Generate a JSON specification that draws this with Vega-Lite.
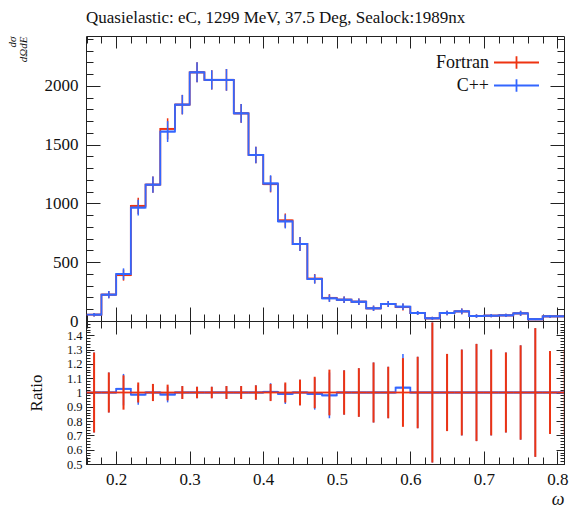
{
  "$schema": "https://vega.github.io/schema/vega-lite/v6.json",
  "padding": {"left": 5, "top": 8, "right": 5, "bottom": 5},
  "background": "white",
  "config": {
    "font": "Liberation Serif",
    "view": {"stroke": "#222", "strokeWidth": 1},
    "axis": {"grid": false, "domain": false, "labelFont": "Liberation Serif", "titleFont": "Liberation Serif", "tickColor": "#222", "labelColor": "#111", "titleColor": "#111", "titleFontWeight": "normal", "tickWidth": 1, "minExtent": 0, "labelOverlap": false}
  },
  "datasets": {
    "bins": [
      {"x0":0.16,"x1":0.18,"xm":0.17,"F":54,"Flo":38.9,"Fhi":69.1,"C":54,"Clo":38.9,"Chi":69.1,"R":1,"Rlo":0.72,"Rhi":1.28,"Elo":0.72,"Ehi":1.28},
      {"x0":0.18,"x1":0.20,"xm":0.19,"F":224,"Flo":192.6,"Fhi":255.4,"C":224,"Clo":192.6,"Chi":255.4,"R":1,"Rlo":0.86,"Rhi":1.14,"Elo":0.86,"Ehi":1.14},
      {"x0":0.20,"x1":0.22,"xm":0.21,"F":390,"Flo":343.2,"Fhi":436.8,"C":400,"Clo":352,"Chi":448,"R":1.026,"Rlo":0.91,"Rhi":1.13,"Elo":0.88,"Ehi":1.12},
      {"x0":0.22,"x1":0.24,"xm":0.23,"F":980,"Flo":911.4,"Fhi":1048.6,"C":965,"Clo":897.4,"Chi":1032.6,"R":0.985,"Rlo":0.915,"Rhi":1.055,"Elo":0.93,"Ehi":1.07},
      {"x0":0.24,"x1":0.26,"xm":0.25,"F":1160,"Flo":1090.4,"Fhi":1229.6,"C":1160,"Clo":1090.4,"Chi":1229.6,"R":1,"Rlo":0.94,"Rhi":1.06,"Elo":0.94,"Ehi":1.06},
      {"x0":0.26,"x1":0.28,"xm":0.27,"F":1635,"Flo":1545.1,"Fhi":1724.9,"C":1612,"Clo":1523.3,"Chi":1700.7,"R":0.986,"Rlo":0.931,"Rhi":1.041,"Elo":0.945,"Ehi":1.055},
      {"x0":0.28,"x1":0.30,"xm":0.29,"F":1841,"Flo":1758.2,"Fhi":1923.8,"C":1841,"Clo":1758.2,"Chi":1923.8,"R":1,"Rlo":0.955,"Rhi":1.045,"Elo":0.955,"Ehi":1.045},
      {"x0":0.30,"x1":0.32,"xm":0.31,"F":2116,"Flo":2031.4,"Fhi":2200.6,"C":2116,"Clo":2031.4,"Chi":2200.6,"R":1,"Rlo":0.96,"Rhi":1.04,"Elo":0.96,"Ehi":1.04},
      {"x0":0.32,"x1":0.34,"xm":0.33,"F":2052,"Flo":1969.9,"Fhi":2134.1,"C":2052,"Clo":1969.9,"Chi":2134.1,"R":1,"Rlo":0.96,"Rhi":1.04,"Elo":0.96,"Ehi":1.04},
      {"x0":0.34,"x1":0.36,"xm":0.35,"F":2052,"Flo":1959.7,"Fhi":2144.3,"C":2052,"Clo":1959.7,"Chi":2144.3,"R":1,"Rlo":0.955,"Rhi":1.045,"Elo":0.955,"Ehi":1.045},
      {"x0":0.36,"x1":0.38,"xm":0.37,"F":1767,"Flo":1687.5,"Fhi":1846.5,"C":1767,"Clo":1687.5,"Chi":1846.5,"R":1,"Rlo":0.955,"Rhi":1.045,"Elo":0.955,"Ehi":1.045},
      {"x0":0.38,"x1":0.40,"xm":0.39,"F":1413,"Flo":1342.3,"Fhi":1483.7,"C":1413,"Clo":1342.3,"Chi":1483.7,"R":1,"Rlo":0.95,"Rhi":1.05,"Elo":0.95,"Ehi":1.05},
      {"x0":0.40,"x1":0.42,"xm":0.41,"F":1164,"Flo":1094.2,"Fhi":1233.8,"C":1170,"Clo":1099.8,"Chi":1240.2,"R":1.005,"Rlo":0.945,"Rhi":1.065,"Elo":0.94,"Ehi":1.06},
      {"x0":0.42,"x1":0.44,"xm":0.43,"F":855,"Flo":795.1,"Fhi":914.9,"C":847,"Clo":787.7,"Chi":906.3,"R":0.99,"Rlo":0.92,"Rhi":1.06,"Elo":0.93,"Ehi":1.07},
      {"x0":0.44,"x1":0.46,"xm":0.45,"F":655,"Flo":596,"Fhi":714,"C":655,"Clo":596,"Chi":714,"R":1,"Rlo":0.91,"Rhi":1.09,"Elo":0.91,"Ehi":1.09},
      {"x0":0.46,"x1":0.48,"xm":0.47,"F":360,"Flo":320.4,"Fhi":399.6,"C":357,"Clo":317.7,"Chi":396.3,"R":0.99,"Rlo":0.88,"Rhi":1.10,"Elo":0.89,"Ehi":1.11},
      {"x0":0.48,"x1":0.50,"xm":0.49,"F":197,"Flo":165.5,"Fhi":228.5,"C":193,"Clo":162.1,"Chi":223.9,"R":0.98,"Rlo":0.82,"Rhi":1.14,"Elo":0.84,"Ehi":1.16},
      {"x0":0.50,"x1":0.52,"xm":0.51,"F":181,"Flo":152.9,"Fhi":209.1,"C":181,"Clo":152.9,"Chi":209.1,"R":1,"Rlo":0.845,"Rhi":1.155,"Elo":0.845,"Ehi":1.155},
      {"x0":0.52,"x1":0.54,"xm":0.53,"F":164,"Flo":136.1,"Fhi":191.9,"C":164,"Clo":136.1,"Chi":191.9,"R":1,"Rlo":0.83,"Rhi":1.17,"Elo":0.83,"Ehi":1.17},
      {"x0":0.54,"x1":0.56,"xm":0.55,"F":108,"Flo":85.3,"Fhi":130.7,"C":108,"Clo":85.3,"Chi":130.7,"R":1,"Rlo":0.79,"Rhi":1.21,"Elo":0.79,"Ehi":1.21},
      {"x0":0.56,"x1":0.58,"xm":0.57,"F":145,"Flo":118.9,"Fhi":171.1,"C":145,"Clo":118.9,"Chi":171.1,"R":1,"Rlo":0.82,"Rhi":1.18,"Elo":0.82,"Ehi":1.18},
      {"x0":0.58,"x1":0.60,"xm":0.59,"F":118,"Flo":89.7,"Fhi":146.3,"C":122,"Clo":92.7,"Chi":151.3,"R":1.034,"Rlo":0.80,"Rhi":1.27,"Elo":0.76,"Ehi":1.24},
      {"x0":0.60,"x1":0.62,"xm":0.61,"F":68,"Flo":51,"Fhi":85,"C":68,"Clo":51,"Chi":85,"R":1,"Rlo":0.75,"Rhi":1.25,"Elo":0.75,"Ehi":1.25},
      {"x0":0.62,"x1":0.64,"xm":0.63,"F":23,"Flo":10.3,"Fhi":35.7,"C":23,"Clo":10.3,"Chi":35.7,"R":1,"Rlo":0.51,"Rhi":1.49,"Elo":0.51,"Ehi":1.49},
      {"x0":0.64,"x1":0.66,"xm":0.65,"F":68,"Flo":49.6,"Fhi":86.4,"C":68,"Clo":49.6,"Chi":86.4,"R":1,"Rlo":0.73,"Rhi":1.27,"Elo":0.73,"Ehi":1.27},
      {"x0":0.66,"x1":0.68,"xm":0.67,"F":82,"Flo":57.4,"Fhi":106.6,"C":82,"Clo":57.4,"Chi":106.6,"R":1,"Rlo":0.70,"Rhi":1.30,"Elo":0.70,"Ehi":1.30},
      {"x0":0.68,"x1":0.70,"xm":0.69,"F":42,"Flo":27.7,"Fhi":56.3,"C":42,"Clo":27.7,"Chi":56.3,"R":1,"Rlo":0.66,"Rhi":1.34,"Elo":0.66,"Ehi":1.34},
      {"x0":0.70,"x1":0.72,"xm":0.71,"F":45,"Flo":31.5,"Fhi":58.5,"C":45,"Clo":31.5,"Chi":58.5,"R":1,"Rlo":0.70,"Rhi":1.30,"Elo":0.70,"Ehi":1.30},
      {"x0":0.72,"x1":0.74,"xm":0.73,"F":48,"Flo":34.6,"Fhi":61.4,"C":48,"Clo":34.6,"Chi":61.4,"R":1,"Rlo":0.72,"Rhi":1.28,"Elo":0.72,"Ehi":1.28},
      {"x0":0.74,"x1":0.76,"xm":0.75,"F":65,"Flo":43.5,"Fhi":86.5,"C":65,"Clo":43.5,"Chi":86.5,"R":1,"Rlo":0.67,"Rhi":1.33,"Elo":0.67,"Ehi":1.33},
      {"x0":0.76,"x1":0.78,"xm":0.77,"F":15,"Flo":8.2,"Fhi":21.8,"C":15,"Clo":8.2,"Chi":21.8,"R":1,"Rlo":0.55,"Rhi":1.45,"Elo":0.55,"Ehi":1.45},
      {"x0":0.78,"x1":0.80,"xm":0.79,"F":40,"Flo":28.4,"Fhi":51.6,"C":40,"Clo":28.4,"Chi":51.6,"R":1,"Rlo":0.71,"Rhi":1.29,"Elo":0.71,"Ehi":1.29},
      {"x0":0.80,"x1":0.82,"xm":0.81,"F":40,"Flo":28,"Fhi":52,"C":40,"Clo":28,"Chi":52,"R":1,"Rlo":0.70,"Rhi":1.30,"Elo":0.70,"Ehi":1.30}
    ]
  },
  "vconcat": [
    {
      "width": 478,
      "height": 285,
      "title": {"text": "Quasielastic: eC, 1299 MeV, 37.5 Deg, Sealock:1989nx", "anchor": "start", "frame": "group", "fontSize": 17, "font": "Liberation Serif", "fontWeight": "normal", "offset": 9, "color": "#111"},
      "data": {"name": "bins"},
      "resolve": {"axis": {"x": "independent", "y": "independent"}},
      "layer": [
        {
          "mark": {"type": "rule", "strokeWidth": 1.8, "clip": true},
          "encoding": {
            "x": {"field": "x0", "type": "quantitative", "scale": {"domain": [0.159, 0.809], "nice": false, "zero": false},
                  "axis": {"orient": "bottom", "values": [0.2,0.3,0.4,0.5,0.6,0.7,0.8], "labels": false, "tickSize": -14, "title": null}},
            "x2": {"field": "x1"},
            "y": {"field": "F", "type": "quantitative", "scale": {"domain": [0, 2425], "nice": false, "zero": false},
                  "axis": {"orient": "left", "values": [0,500,1000,1500,2000], "format": "d", "ticks": false, "labelPadding": 8, "labelFontSize": 17,
                           "title": ["dσ", "dΩdE"], "titleAnchor": "end", "titleAngle": -90, "titleFontSize": 11, "titleFontStyle": "italic", "titlePadding": 16, "titleLineHeight": 11}},
            "color": {"datum": "Fortran", "type": "nominal", "scale": {"domain": ["Fortran", "C++"], "range": ["#EE3311", "#3366FF"]},
                      "legend": {"title": null, "orient": "none", "legendX": 418, "legendY": 14, "labelFontSize": 18, "labelFont": "Liberation Serif", "labelColor": "#111",
                                 "labelAlign": "right", "labelOffset": -40, "symbolType": "M-2,0H2M0,-0.55V0.55", "symbolSize": 506, "symbolStrokeWidth": 1.8, "rowPadding": 0, "labelLimit": 300}}
          }
        },
        {
          "mark": {"type": "line", "interpolate": "step", "strokeWidth": 1.8, "clip": true},
          "encoding": {
            "x": {"field": "xm", "type": "quantitative", "axis": {"orient": "bottom", "values": [0.16,0.18,0.2,0.22,0.24,0.26,0.28,0.3,0.32,0.34,0.36,0.38,0.4,0.42,0.44,0.46,0.48,0.5,0.52,0.54,0.56,0.58,0.6,0.62,0.64,0.66,0.68,0.7,0.72,0.74,0.76,0.78,0.8], "labels": false, "tickSize": -7, "title": null}},
            "y": {"field": "F", "type": "quantitative", "axis": {"orient": "left", "values": [0,500,1000,1500,2000], "labels": false, "tickSize": -14, "title": null}},
            "color": {"datum": "Fortran", "type": "nominal"}
          }
        },
        {
          "mark": {"type": "rule", "strokeWidth": 1.5, "clip": true},
          "encoding": {
            "x": {"field": "xm", "type": "quantitative", "axis": {"orient": "top", "values": [0.2,0.3,0.4,0.5,0.6,0.7,0.8], "labels": false, "tickSize": -12, "title": null}},
            "y": {"field": "Flo", "type": "quantitative", "axis": {"orient": "left", "values": [0,100,200,300,400,500,600,700,800,900,1000,1100,1200,1300,1400,1500,1600,1700,1800,1900,2000,2100,2200,2300,2400], "labels": false, "tickSize": -7, "title": null}},
            "y2": {"field": "Fhi"},
            "color": {"datum": "Fortran", "type": "nominal"}
          }
        },
        {
          "mark": {"type": "rule", "strokeWidth": 1.8, "clip": true},
          "encoding": {
            "x": {"field": "x0", "type": "quantitative", "axis": {"orient": "top", "values": [0.16,0.18,0.2,0.22,0.24,0.26,0.28,0.3,0.32,0.34,0.36,0.38,0.4,0.42,0.44,0.46,0.48,0.5,0.52,0.54,0.56,0.58,0.6,0.62,0.64,0.66,0.68,0.7,0.72,0.74,0.76,0.78,0.8], "labels": false, "tickSize": -7, "title": null}},
            "x2": {"field": "x1"},
            "y": {"field": "C", "type": "quantitative", "axis": {"orient": "right", "values": [0,500,1000,1500,2000], "labels": false, "tickSize": -14, "title": null}},
            "color": {"datum": "C++", "type": "nominal"}
          }
        },
        {
          "mark": {"type": "line", "interpolate": "step", "strokeWidth": 1.8, "clip": true},
          "encoding": {
            "x": {"field": "xm", "type": "quantitative", "axis": null},
            "y": {"field": "C", "type": "quantitative", "axis": {"orient": "right", "values": [0,100,200,300,400,500,600,700,800,900,1000,1100,1200,1300,1400,1500,1600,1700,1800,1900,2000,2100,2200,2300,2400], "labels": false, "tickSize": -7, "title": null}},
            "color": {"datum": "C++", "type": "nominal"}
          }
        },
        {
          "mark": {"type": "rule", "strokeWidth": 1.5, "clip": true},
          "encoding": {
            "x": {"field": "xm", "type": "quantitative", "axis": null},
            "y": {"field": "Clo", "type": "quantitative", "axis": null},
            "y2": {"field": "Chi"},
            "color": {"datum": "C++", "type": "nominal"}
          }
        }
      ]
    },
    {
      "width": 478,
      "height": 143,
      "data": {"name": "bins"},
      "resolve": {"axis": {"x": "independent", "y": "independent"}},
      "layer": [
        {
          "mark": {"type": "rule", "strokeWidth": 1.8, "color": "#3366FF", "clip": true},
          "encoding": {
            "x": {"field": "x0", "type": "quantitative", "scale": {"domain": [0.159, 0.809], "nice": false, "zero": false},
                  "axis": {"orient": "top", "values": [0.2,0.3,0.4,0.5,0.6,0.7,0.8], "labels": false, "tickSize": -13, "title": null}},
            "x2": {"field": "x1"},
            "y": {"field": "R", "type": "quantitative", "scale": {"domain": [0.5, 1.5], "nice": false, "zero": false},
                  "axis": {"orient": "left", "values": [0.5,0.6,0.7,0.8,0.9,1,1.1,1.2,1.3,1.4], "format": ".1~f", "ticks": false, "labelPadding": 4, "labelFontSize": 12.5,
                           "title": "Ratio", "titleFontSize": 17, "titlePadding": 21}}
          }
        },
        {
          "mark": {"type": "line", "interpolate": "step", "strokeWidth": 1.8, "color": "#3366FF", "clip": true},
          "encoding": {
            "x": {"field": "xm", "type": "quantitative", "axis": {"orient": "top", "values": [0.16,0.18,0.2,0.22,0.24,0.26,0.28,0.3,0.32,0.34,0.36,0.38,0.4,0.42,0.44,0.46,0.48,0.5,0.52,0.54,0.56,0.58,0.6,0.62,0.64,0.66,0.68,0.7,0.72,0.74,0.76,0.78,0.8], "labels": false, "tickSize": -7, "title": null}},
            "y": {"field": "R", "type": "quantitative", "axis": {"orient": "left", "values": [0.5,0.6,0.7,0.8,0.9,1,1.1,1.2,1.3,1.4,1.5], "labels": false, "tickSize": -8, "title": null}}
          }
        },
        {
          "mark": {"type": "rule", "strokeWidth": 1.5, "color": "#3366FF", "clip": true},
          "encoding": {
            "x": {"field": "xm", "type": "quantitative", "axis": {"orient": "bottom", "values": [0.2,0.3,0.4,0.5,0.6,0.7,0.8], "labels": false, "tickSize": -13, "title": null}},
            "y": {"field": "Rlo", "type": "quantitative", "axis": {"orient": "left", "values": [0.5,0.52,0.54,0.56,0.58,0.6,0.62,0.64,0.66,0.68,0.7,0.72,0.74,0.76,0.78,0.8,0.82,0.84,0.86,0.88,0.9,0.92,0.94,0.96,0.98,1,1.02,1.04,1.06,1.08,1.1,1.12,1.14,1.16,1.18,1.2,1.22,1.24,1.26,1.28,1.3,1.32,1.34,1.36,1.38,1.4,1.42,1.44,1.46,1.48], "labels": false, "tickSize": -4, "title": null}},
            "y2": {"field": "Rhi"}
          }
        },
        {
          "mark": {"type": "rule", "strokeWidth": 1.8, "color": "#EE3311", "clip": true},
          "encoding": {
            "x": {"field": "x0", "type": "quantitative", "axis": {"orient": "bottom", "values": [0.16,0.18,0.2,0.22,0.24,0.26,0.28,0.3,0.32,0.34,0.36,0.38,0.4,0.42,0.44,0.46,0.48,0.5,0.52,0.54,0.56,0.58,0.6,0.62,0.64,0.66,0.68,0.7,0.72,0.74,0.76,0.78,0.8], "labels": false, "tickSize": -7, "title": null}},
            "x2": {"field": "x1"},
            "y": {"datum": 1, "type": "quantitative", "axis": {"orient": "right", "values": [0.5,0.6,0.7,0.8,0.9,1,1.1,1.2,1.3,1.4,1.5], "labels": false, "tickSize": -8, "title": null}}
          }
        },
        {
          "mark": {"type": "rule", "strokeWidth": 2, "color": "#EE3311", "clip": true},
          "encoding": {
            "x": {"field": "xm", "type": "quantitative", "axis": {"orient": "bottom", "values": [0.2,0.3,0.4,0.5,0.6,0.7,0.8], "format": ".1f", "ticks": false, "labelPadding": 7, "labelFontSize": 17,
                  "title": "ω", "titleAnchor": "end", "titleFontSize": 18, "titleFontStyle": "italic", "titlePadding": 3}},
            "y": {"field": "Elo", "type": "quantitative", "axis": {"orient": "right", "values": [0.5,0.52,0.54,0.56,0.58,0.6,0.62,0.64,0.66,0.68,0.7,0.72,0.74,0.76,0.78,0.8,0.82,0.84,0.86,0.88,0.9,0.92,0.94,0.96,0.98,1,1.02,1.04,1.06,1.08,1.1,1.12,1.14,1.16,1.18,1.2,1.22,1.24,1.26,1.28,1.3,1.32,1.34,1.36,1.38,1.4,1.42,1.44,1.46,1.48], "labels": false, "tickSize": -4, "title": null}},
            "y2": {"field": "Ehi"}
          }
        }
      ]
    }
  ],
  "spacing": 0,
  "bounds": "flush",
  "resolve": {"scale": {"color": "independent"}, "legend": {"color": "independent"}}
}
